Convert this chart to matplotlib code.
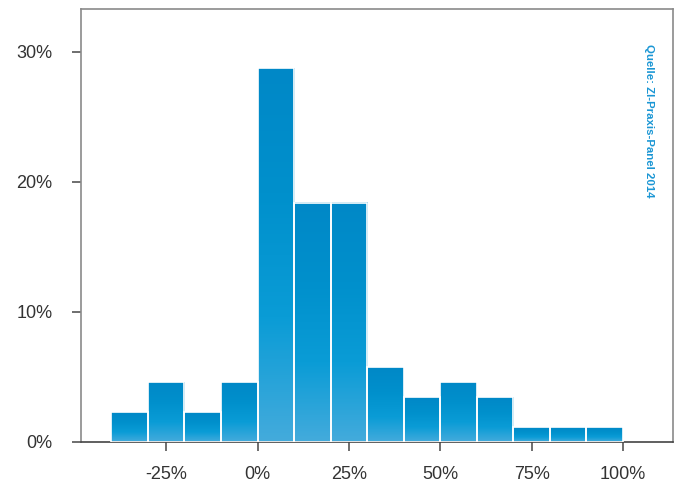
import numpy as np
import matplotlib.pyplot as plt
from matplotlib import font_manager
from matplotlib.colors import LinearSegmentedColormap

plt.rcParams['font.family'] = ['Liberation Sans', 'DejaVu Sans']

# -----------------------
# Data (share of practices per change class, in %)
# -----------------------
bin_left = [-40, -30, -20, -10, 0, 10, 20, 30, 40, 50, 60, 70, 80, 90]
counts = [2, 4, 2, 4, 25, 16, 16, 5, 3, 4, 3, 1, 1, 1]
share = [c / sum(counts) * 100 for c in counts]
x_ticks = [-25, 0, 25, 50, 75, 100]
y_ticks = [0, 10, 20, 30]
source = "Quelle: ZI-Praxis-Panel 2014"

bin_width = 10
grad = LinearSegmentedColormap.from_list(
    "bar", ["#44abdc", "#0a9cd6", "#0090cc", "#0088c7"])

# regular / bold Liberation Sans by file (avoid the Narrow variant)
def find_font(name):
    for f in font_manager.findSystemFonts():
        if f.endswith(name):
            return font_manager.FontProperties(fname=f)
    return None

reg = find_font("LiberationSans-Regular.ttf")
bold = find_font("LiberationSans-Bold.ttf")

fig = plt.figure(figsize=(6.78, 4.82), dpi=100)
ax = fig.add_axes([81 / 678, 1 - 442 / 482, (673 - 81) / 678, (442 - 9) / 482])

# gradient filled bars
g = np.linspace(0, 1, 256).reshape(-1, 1)
for left, h in zip(bin_left, share):
    ax.imshow(g, cmap=grad, aspect="auto", origin="lower",
              extent=[left, left + bin_width, 0, h], zorder=2)
    ax.bar(left, h, width=bin_width, align="edge", facecolor="none",
           edgecolor="white", linewidth=1.2, zorder=3)

ax.set_xlim(-48.3, 113.7)
ax.set_ylim(0, 33.3)

ax.set_xticks(x_ticks)
ax.set_xticklabels([f"{t}%" for t in x_ticks])
ax.set_yticks(y_ticks)
ax.set_yticklabels([f"{t}%" for t in y_ticks])
ax.tick_params(axis="both", direction="out", length=6.5, width=1.2,
               colors="#555555", labelcolor="#333333", labelsize=13)
ax.tick_params(axis="x", pad=10.5)
ax.tick_params(axis="y", pad=14)
if reg is not None:
    for lab in ax.get_xticklabels() + ax.get_yticklabels():
        lab.set_fontproperties(reg)
        lab.set_fontsize(13)

for side in ["left", "right", "top"]:
    ax.spines[side].set_color("#8a8a8a")
    ax.spines[side].set_linewidth(1.2)
ax.spines["bottom"].set_color("#444444")
ax.spines["bottom"].set_linewidth(1.2)

txt = ax.text(0.96, 0.92, source, transform=ax.transAxes, rotation=-90,
              ha="center", va="top", color="#1a96d4", fontsize=8.2,
              fontweight="bold")
if bold is not None:
    txt.set_fontproperties(bold)
    txt.set_fontsize(8.2)

plt.savefig("out.png", dpi=100)
plt.close()
